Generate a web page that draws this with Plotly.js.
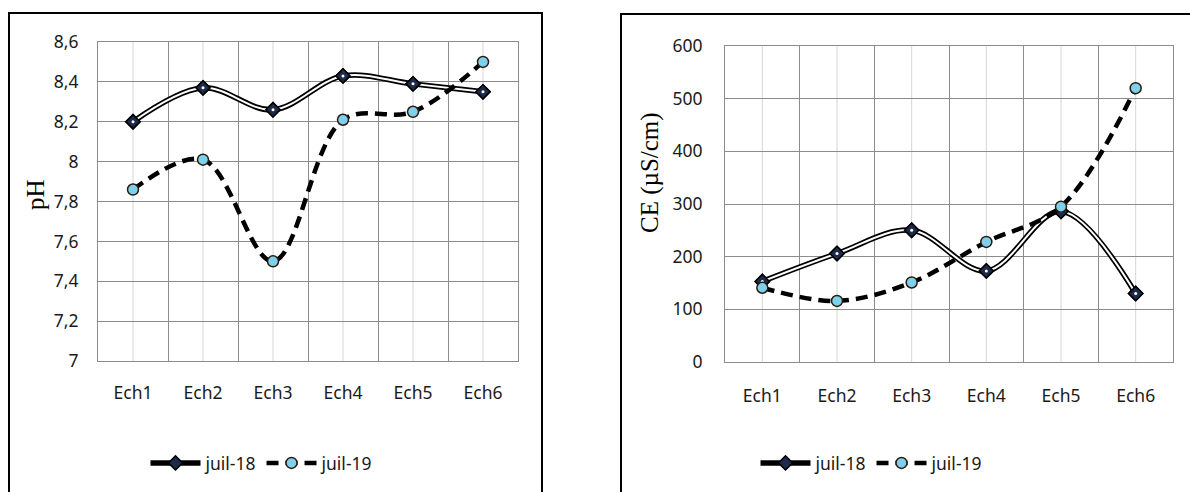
<!DOCTYPE html>
<html>
<head>
<meta charset="utf-8">
<script src="https://cdn.plot.ly/plotly-3.0.1.min.js"></script>
<style>html,body{margin:0;padding:0;background:#fff;}#chart{width:1190px;height:492px;}</style>
</head>
<body>
<div id="chart"></div>
<script>
const categories = ['Ech1', 'Ech2', 'Ech3', 'Ech4', 'Ech5', 'Ech6'];
const seriesNames = ['juil-18', 'juil-19'];
const ph2018 = [8.20, 8.37, 8.26, 8.43, 8.39, 8.35];
const ph2019 = [7.86, 8.01, 7.50, 8.21, 8.25, 8.50];
const ce2018 = [153, 206, 250, 173, 286, 130];
const ce2019 = [141, 116, 151, 228, 295, 520];
const phTickVals = [7, 7.2, 7.4, 7.6, 7.8, 8, 8.2, 8.4, 8.6];
const phTickText = ['7', '7,2', '7,4', '7,6', '7,8', '8', '8,2', '8,4', '8,6'];
const ceTickVals = [0, 100, 200, 300, 400, 500, 600];
const ceTickText = ['0', '100', '200', '300', '400', '500', '600'];
const yTitles = ['pH', 'CE (µS/cm)'];

const W = 1190, H = 492;
const px = v => v / W, py = v => 1 - v / H;
const tickFont = {family: 'Noto Sans, Open Sans, sans-serif', size: 17.5, color: '#1a1a1a'};

function seriesTraces(xa, ya, legendId, v18, v19) {
  const common = {x: categories, xaxis: xa, yaxis: ya, hoverinfo: 'skip'};
  return [
    Object.assign({}, common, {y: v18, name: seriesNames[0], legend: legendId, mode: 'lines+markers',
      line: {color: '#000', width: 5.5, shape: 'spline', smoothing: 1},
      marker: {symbol: 'diamond', size: 11, color: '#1e2a4a', line: {color: '#000', width: 1.5}}}),
    Object.assign({}, common, {y: v18, showlegend: false, mode: 'lines',
      line: {color: '#fff', width: 2, shape: 'spline', smoothing: 1}}),
    Object.assign({}, common, {y: v18, showlegend: false, mode: 'markers',
      marker: {symbol: 'diamond', size: 11, color: '#1e2a4a', line: {color: '#000', width: 1.5}}}),
    Object.assign({}, common, {y: v18, showlegend: false, mode: 'markers',
      marker: {symbol: 'circle', size: 3, color: '#fff'}}),
    Object.assign({}, common, {y: v19, name: seriesNames[1], legend: legendId, mode: 'lines+markers',
      line: {color: '#000', width: 4.5, dash: '12px,7px', shape: 'spline', smoothing: 1},
      marker: {symbol: 'circle', size: 11, color: '#7fd0ea', line: {color: '#2a1a10', width: 1.5}}})
  ];
}

const data = [].concat(
  seriesTraces('x', 'y', 'legend', ph2018, ph2019),
  seriesTraces('x2', 'y2', 'legend2', ce2018, ce2019)
);

function xAxis(domain, anchor, standoff) {
  return {domain: domain, anchor: anchor, type: 'category', range: [-0.5, 5.5], tickson: 'boundaries',
    showgrid: true, gridcolor: '#8c8c8c', gridwidth: 1,
    showline: true, mirror: true, linecolor: '#8c8c8c', linewidth: 1,
    ticks: '', ticklabelstandoff: standoff,
    tickfont: tickFont, zeroline: false, fixedrange: true};
}
function yAxis(domain, anchor, range, vals, text, ticklen) {
  return {domain: domain, anchor: anchor, range: range, tickmode: 'array', tickvals: vals, ticktext: text,
    showgrid: true, gridcolor: '#8c8c8c', gridwidth: 1,
    showline: true, mirror: true, linecolor: '#8c8c8c', linewidth: 1,
    ticks: 'outside', ticklen: ticklen, tickcolor: 'rgba(0,0,0,0)',
    tickfont: tickFont, zeroline: false, fixedrange: true};
}

const shapes = [];
['x', 'x2'].forEach((xa, i) => {
  const ya = i === 0 ? 'y domain' : 'y2 domain';
  categories.forEach(c => {
    shapes.push({type: 'line', xref: xa, yref: ya, x0: c, x1: c, y0: 0, y1: 1,
      line: {color: '#d6d6d6', width: 1}, layer: 'below'});
  });
});
shapes.push({type: 'rect', xref: 'paper', yref: 'paper', x0: px(9), x1: px(542), y0: -0.2, y1: py(13),
  line: {color: '#000', width: 2}});
shapes.push({type: 'rect', xref: 'paper', yref: 'paper', x0: px(621), x1: 1.2, y0: -0.2, y1: py(14),
  line: {color: '#000', width: 2}});

const legendBase = {orientation: 'h', xanchor: 'center', yanchor: 'middle', y: py(463),
  font: {family: 'Noto Sans, Open Sans, sans-serif', size: 17.5, color: '#1a1a1a'},
  bgcolor: 'rgba(0,0,0,0)', itemwidth: 50, tracegroupgap: 0};

const layout = {
  width: W, height: H,
  margin: {l: 0, r: 0, t: 0, b: 0},
  paper_bgcolor: '#fff', plot_bgcolor: '#fff',
  showlegend: true,
  xaxis: xAxis([px(98), px(518)], 'y', 16),
  yaxis: yAxis([py(361), py(42)], 'x', [7, 8.6], phTickVals, phTickText, 15),
  xaxis2: xAxis([px(725), px(1173)], 'y2', 18),
  yaxis2: yAxis([py(362), py(46)], 'x2', [0, 600], ceTickVals, ceTickText, 18),
  legend: Object.assign({}, legendBase, {x: px(262)}),
  legend2: Object.assign({}, legendBase, {x: px(872)}),
  shapes: shapes,
  annotations: [
    {text: yTitles[0], xref: 'paper', yref: 'paper', x: px(35), y: py(195), textangle: -90,
      showarrow: false, xanchor: 'center', yanchor: 'middle',
      font: {family: 'Liberation Serif, Times New Roman, serif', size: 25, color: '#000'}},
    {text: yTitles[1], xref: 'paper', yref: 'paper', x: px(650), y: py(172), textangle: -90,
      showarrow: false, xanchor: 'center', yanchor: 'middle',
      font: {family: 'Liberation Serif, Times New Roman, serif', size: 25, color: '#000'}}
  ]
};

Plotly.newPlot('chart', data, layout, {staticPlot: true, displayModeBar: false});
</script>
</body>
</html>
